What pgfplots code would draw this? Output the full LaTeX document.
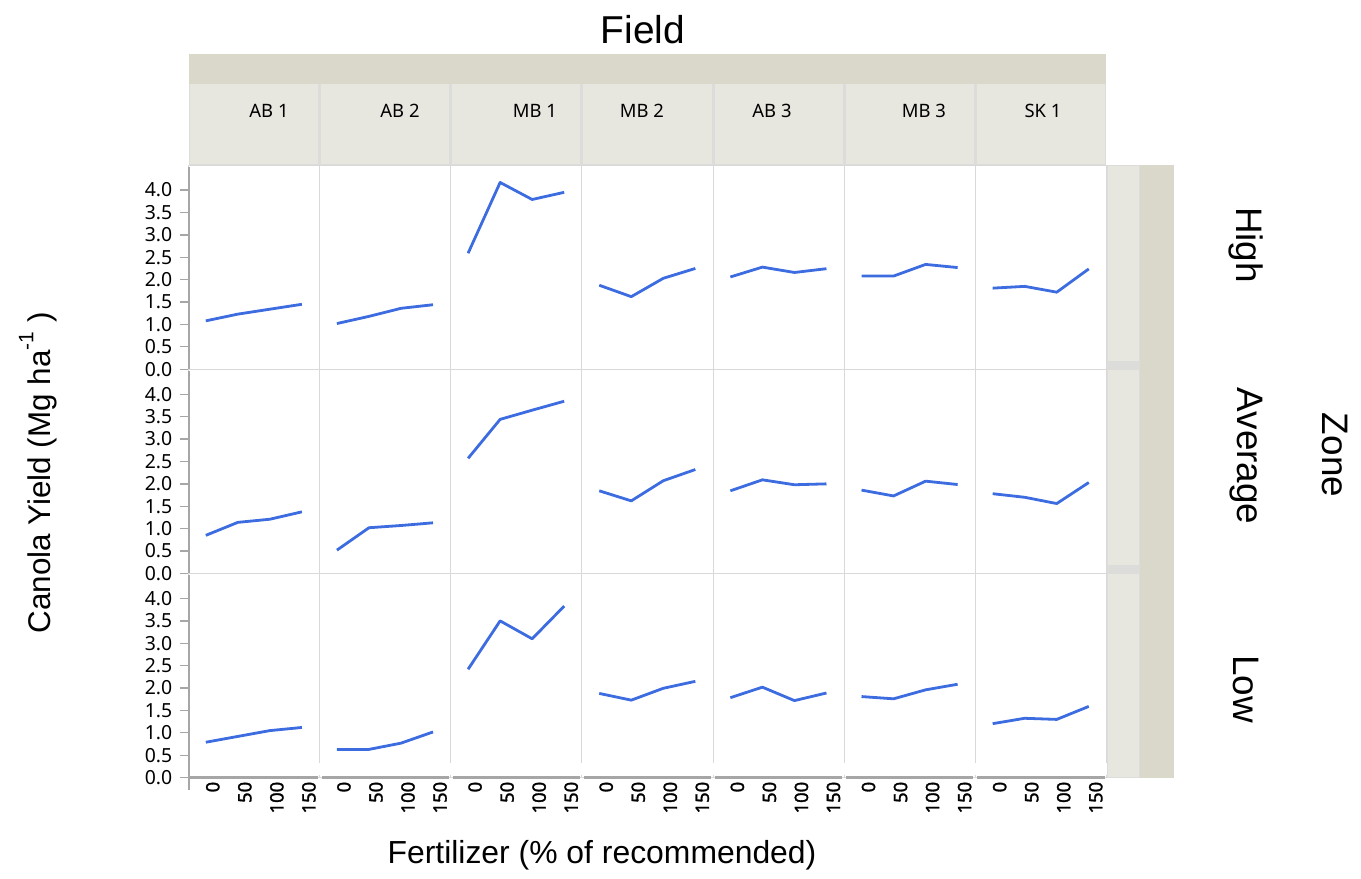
\documentclass[border=0pt]{standalone}
\usepackage{fontspec}
\setmainfont{Liberation Sans}
\newfontfamily\notosans{Noto Sans}
\newfontfamily\notosansfb[FakeBold=1.6]{Noto Sans}
\usepackage{pgfplots}
\pgfplotsset{compat=1.18}

\definecolor{lineblue}{RGB}{60,108,224}
\definecolor{sepgray}{RGB}{217,217,217}
\definecolor{axgray}{RGB}{166,166,166}
\definecolor{stripdark}{RGB}{218,216,203}
\definecolor{striplight}{RGB}{232,231,223}
\definecolor{stripsep}{RGB}{220,220,218}

\newcommand{\ticksfont}{\notosans\fontsize{19.5}{21}\selectfont}
\newcommand{\xticksfont}{\notosansfb\fontsize{18.5}{20}\selectfont}
\newcommand{\stripfont}{\notosans\fontsize{18.5}{21}\selectfont}

\pgfplotsset{
  panel/.style={
    scale only axis, width=131.14bp, height=204.2bp, anchor=north west,
    xmin=-27, xmax=177.7, ymin=0, ymax=4.56, clip=false,
    axis line style={sepgray, line width=1bp},
    xtick=\empty, ytick=\empty,
    every axis plot post/.append style={lineblue, line width=2.8bp, line join=round, mark=none},
  },
  leftcol/.style={
    ytick={0,0.5,1,1.5,2,2.5,3,3.5,4},
    yticklabels={{\ticksfont 0.0},{\ticksfont 0.5},{\ticksfont 1.0},{\ticksfont 1.5},{\ticksfont 2.0},{\ticksfont 2.5},{\ticksfont 3.0},{\ticksfont 3.5},{\ticksfont 4.0}},
    ytick pos=left, tick align=outside, major tick length=9bp,
    ytick style={axgray, line width=1.3bp},
    yticklabel shift=7bp,
    y tick label style={anchor=east, inner sep=0pt},
    extra description/.append code={\draw[axgray, line width=2bp] (axis description cs:0,#1) -- (axis description cs:0,0.99);},
  },
  leftcol/.default=0,
  bottomrow/.style={
    xtick={0,50,100,150},
    xticklabels={{\xticksfont 0},{\xticksfont 50},{\xticksfont 100},{\xticksfont 150}},
    xtick pos=bottom,
    xtick style={draw=none},
    x tick label style={rotate=90, anchor=north east, inner sep=0pt},
    xticklabel shift=4bp,
    extra description/.append code={
      \fill[white] (axis description cs:-0.015,0.012) rectangle (axis description cs:0.015,0.07);
      \fill[white] (axis description cs:0.985,0.012) rectangle (axis description cs:1.015,0.07);
      \draw[axgray, line width=2.5bp] (axis description cs:#1,0) -- (axis description cs:0.985,0);},
  },
  bottomrow/.default=0.015,
}

\newcommand{\panel}[4]{%
  \begin{axis}[panel, at={(#1bp,#2bp)}, #3]
    \addplot coordinates {#4};
  \end{axis}}

\begin{document}
\begin{tikzpicture}[x=1bp,y=1bp]
\path[use as bounding box] (0,0) rectangle (1361,-878);

% top strip
\fill[stripdark] (188.5,-54) rectangle (1106,-83.5);
\fill[stripsep] (188.5,-83.5) rectangle (1106,-165);
\foreach \l in {188.5,319.64,450.79,581.93,713.07,844.21,975.36}{
  \fill[striplight] (\l+1.5,-83.5) rectangle (\l+129.6,-164);
}

% strip labels
\node[font=\stripfont] at (269,-111) {AB 1};
\node[font=\stripfont] at (400,-111) {AB 2};
\node[font=\stripfont] at (535,-111) {MB 1};
\node[font=\stripfont] at (642,-111) {MB 2};
\node[font=\stripfont] at (772,-111) {AB 3};
\node[font=\stripfont] at (924,-111) {MB 3};
\node[font=\stripfont] at (1043,-111) {SK 1};

% titles
\node[font=\fontsize{39}{44}\selectfont] at (643,-30) {Field};
\node[font=\fontsize{37}{42}\selectfont, rotate=-90] at (1335,-455) {Zone};
\node[font=\fontsize{37}{42}\selectfont, rotate=-90] at (1246,-245) {High};
\node[font=\fontsize{37}{42}\selectfont, rotate=-90] at (1246,-456) {Average};
\node[font=\fontsize{37}{42}\selectfont, rotate=-90] at (1246,-689) {Low};
\node[font=\fontsize{31.5}{36}\selectfont, rotate=90] at (38,-473) {Canola Yield (Mg ha\raisebox{0.55em}{\fontsize{21}{22}\selectfont -1} )};
\node[font=\fontsize{32}{36}\selectfont] at (602,-855) {Fertilizer (\% of recommended)};

% High row
\panel{188.5}{-165}{leftcol}{(0,1.08)(50,1.23)(100,1.34)(150,1.45)}
\panel{319.64}{-165}{}{(0,1.02)(50,1.18)(100,1.36)(150,1.44)}
\panel{450.79}{-165}{}{(0,2.59)(50,4.17)(100,3.79)(150,3.95)}
\panel{581.93}{-165}{}{(0,1.875)(50,1.62)(100,2.03)(150,2.25)}
\panel{713.07}{-165}{}{(0,2.06)(50,2.28)(100,2.16)(150,2.245)}
\panel{844.21}{-165}{}{(0,2.08)(50,2.08)(100,2.34)(150,2.27)}
\panel{975.36}{-165}{}{(0,1.81)(50,1.85)(100,1.72)(150,2.24)}
% Average row
\panel{188.5}{-369.2}{leftcol}{(0,0.85)(50,1.14)(100,1.21)(150,1.375)}
\panel{319.64}{-369.2}{}{(0,0.52)(50,1.02)(100,1.07)(150,1.13)}
\panel{450.79}{-369.2}{}{(0,2.57)(50,3.44)(100,3.645)(150,3.845)}
\panel{581.93}{-369.2}{}{(0,1.845)(50,1.62)(100,2.07)(150,2.32)}
\panel{713.07}{-369.2}{}{(0,1.845)(50,2.09)(100,1.98)(150,2.0)}
\panel{844.21}{-369.2}{}{(0,1.86)(50,1.73)(100,2.06)(150,1.985)}
\panel{975.36}{-369.2}{}{(0,1.78)(50,1.70)(100,1.56)(150,2.03)}
% Low row
\panel{188.5}{-573.4}{bottomrow=0, leftcol=-0.06, xticklabel shift=-5bp}{(0,0.79)(50,0.92)(100,1.05)(150,1.12)}
\panel{319.64}{-573.4}{bottomrow}{(0,0.63)(50,0.63)(100,0.77)(150,1.02)}
\panel{450.79}{-573.4}{bottomrow}{(0,2.42)(50,3.50)(100,3.10)(150,3.83)}
\panel{581.93}{-573.4}{bottomrow}{(0,1.88)(50,1.73)(100,1.995)(150,2.15)}
\panel{713.07}{-573.4}{bottomrow}{(0,1.785)(50,2.02)(100,1.72)(150,1.89)}
\panel{844.21}{-573.4}{bottomrow}{(0,1.81)(50,1.76)(100,1.96)(150,2.085)}
\panel{975.36}{-573.4}{bottomrow}{(0,1.205)(50,1.325)(100,1.30)(150,1.59)}

% right strip (drawn last)
\fill[stripdark] (1140,-165) rectangle (1174,-777.6);
\fill[stripsep] (1106.5,-165) rectangle (1140,-777.6);
\fill[striplight] (1107.5,-166) rectangle (1139,-361);
\fill[striplight] (1107.5,-370) rectangle (1139,-565);
\fill[striplight] (1107.5,-574) rectangle (1139,-776.5);
\end{tikzpicture}
\end{document}
